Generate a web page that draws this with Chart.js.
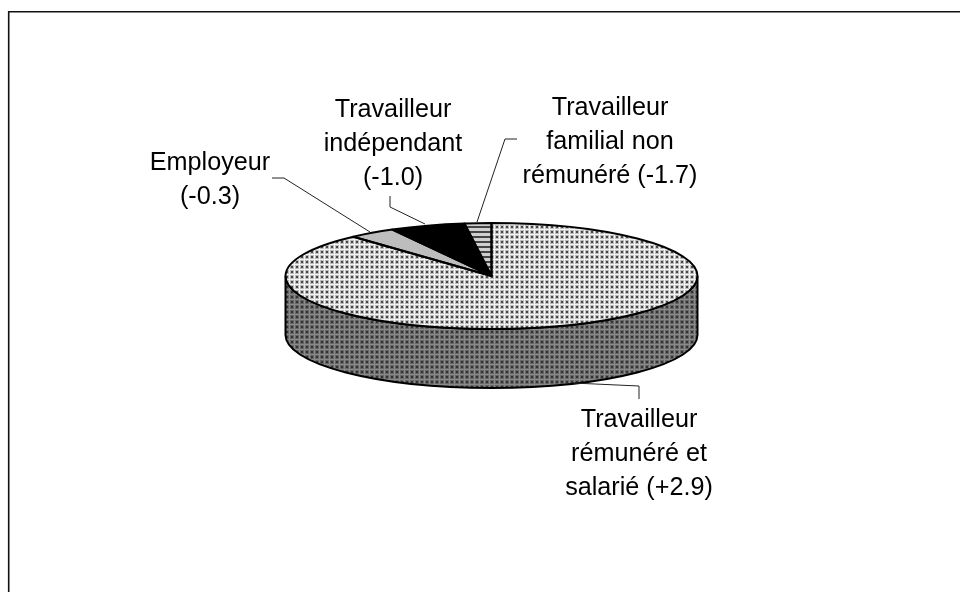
<!DOCTYPE html>
<html>
<head>
<meta charset="utf-8">
<style>html,body{margin:0;padding:0;background:#fff}canvas{display:block}</style>
<script src="https://cdn.jsdelivr.net/npm/chart.js@4/dist/chart.umd.min.js"></script>
</head>
<body>
<canvas id="c" width="960" height="592"></canvas>
<script>
// Data
const categories = ["Travailleur rémunéré et salarié", "Employeur", "Travailleur indépendant", "Travailleur familial non rémunéré"];
const sliceShares = [88.3, 3.7, 5.9, 2.1];
const calloutLines = [
  ["Travailleur", "rémunéré et", "salarié (+2.9)"],
  ["Employeur", "(-0.3)"],
  ["Travailleur", "indépendant", "(-1.0)"],
  ["Travailleur", "familial non", "rémunéré (-1.7)"]
];

// Layout and style
const CX = 491.5, CY = 276, RX = 206, RY = 53, DEPTH = 59;
const TILT = RY / RX;
const FONT = '25.2px "Liberation Sans", Arial, sans-serif';
const LINE_H = 34;
const textPos = [[639, 420], [210, 163], [393, 110], [610, 108]];
const leaders = [
  [[573, 383], [639, 386], [639, 399]],
  [[272, 178], [284, 178], [370, 232]],
  [[390, 196], [390, 207], [425, 224]],
  [[517, 139], [505, 139], [477, 222]]
];

function makePattern(w, h, paint, squash) {
  const t = document.createElement('canvas');
  t.width = w; t.height = h;
  const g = t.getContext('2d');
  paint(g);
  const p = g.createPattern(t, 'repeat');
  if (squash) p.setTransform(new DOMMatrix([1, 0, 0, 1 / TILT, 0, 0]));
  return p;
}
function dots(bg, halo, dot) {
  return g => {
    g.fillStyle = bg; g.fillRect(0, 0, 5, 5);
    g.fillStyle = halo; g.fillRect(0, 0, 4, 4);
    g.fillStyle = dot; g.fillRect(1, 1, 2, 2);
  };
}
const topDots = makePattern(5, 5, dots('#f4f4f4', '#bcbcbc', '#444444'), true);
const stripes = makePattern(5, 5, g => {
  g.fillStyle = '#cfcfcf'; g.fillRect(0, 0, 5, 5);
  g.fillStyle = '#444444'; g.fillRect(0, 1, 5, 2);
}, true);
const sideDots = makePattern(5, 5, dots('#8a8a8a', '#666666', '#333333'), false);
const sliceFills = [topDots, '#bdbdbd', '#000000', stripes];
const sideFills = [sideDots, sideDots, sideDots, sideDots];

const pie3d = {
  id: 'pie3d',
  beforeDraw(chart) {
    const ctx = chart.ctx;
    ctx.save();
    ctx.strokeStyle = '#111';
    ctx.lineWidth = 1.6;
    ctx.beginPath();
    ctx.moveTo(8.7, 592); ctx.lineTo(8.7, 11.7); ctx.lineTo(960, 11.7);
    ctx.stroke();
    ctx.restore();
  },
  beforeDatasetsDraw(chart) {
    const ctx = chart.ctx;
    const arcs = chart.getDatasetMeta(0).data;
    const cx = arcs[0].x, cy = arcs[0].y, r = arcs[0].outerRadius, ry = r * TILT;
    ctx.save();
    ctx.lineWidth = 2;
    ctx.strokeStyle = '#000';
    arcs.forEach((a, i) => {
      const s = Math.max(a.startAngle, 0), e = Math.min(a.endAngle, Math.PI);
      if (e <= s) return;
      ctx.beginPath();
      ctx.ellipse(cx, cy, r, ry, 0, s, e);
      ctx.ellipse(cx, cy + DEPTH, r, ry, 0, e, s, true);
      ctx.closePath();
      ctx.fillStyle = sideFills[i];
      ctx.fill();
      ctx.stroke();
    });
    ctx.restore();
    ctx.save();
    ctx.translate(0, cy);
    ctx.scale(1, TILT);
    ctx.translate(0, -cy);
  },
  afterDatasetsDraw(chart) {
    const ctx = chart.ctx;
    ctx.restore();
    const arcs = chart.getDatasetMeta(0).data;
    ctx.save();
    ctx.lineWidth = 2;
    ctx.lineJoin = 'round';
    ctx.strokeStyle = '#000';
    arcs.forEach(a => {
      ctx.beginPath();
      ctx.moveTo(a.x, a.y);
      ctx.ellipse(a.x, a.y, a.outerRadius, a.outerRadius * TILT, 0, a.startAngle, a.endAngle);
      ctx.closePath();
      ctx.stroke();
    });
    ctx.lineWidth = 1;
    ctx.strokeStyle = '#222';
    leaders.forEach(pts => {
      ctx.beginPath();
      pts.forEach((p, i) => i ? ctx.lineTo(p[0], p[1]) : ctx.moveTo(p[0], p[1]));
      ctx.stroke();
    });
    ctx.fillStyle = '#000';
    ctx.font = FONT;
    ctx.textAlign = 'center';
    ctx.textBaseline = 'middle';
    calloutLines.forEach((lines, i) => {
      lines.forEach((t, j) => ctx.fillText(t, textPos[i][0], textPos[i][1] + j * LINE_H));
    });
    ctx.restore();
  }
};

new Chart(document.getElementById('c'), {
  type: 'pie',
  data: {
    labels: categories,
    datasets: [{ data: sliceShares, backgroundColor: sliceFills, borderWidth: 0, clip: false }]
  },
  options: {
    responsive: false,
    animation: false,
    layout: { padding: { left: CX - RX, right: 960 - CX - RX, top: 0, bottom: 592 - 2 * CY } },
    plugins: { legend: { display: false }, tooltip: { enabled: false }, title: { display: false } }
  },
  plugins: [pie3d]
});
</script>
</body>
</html>
